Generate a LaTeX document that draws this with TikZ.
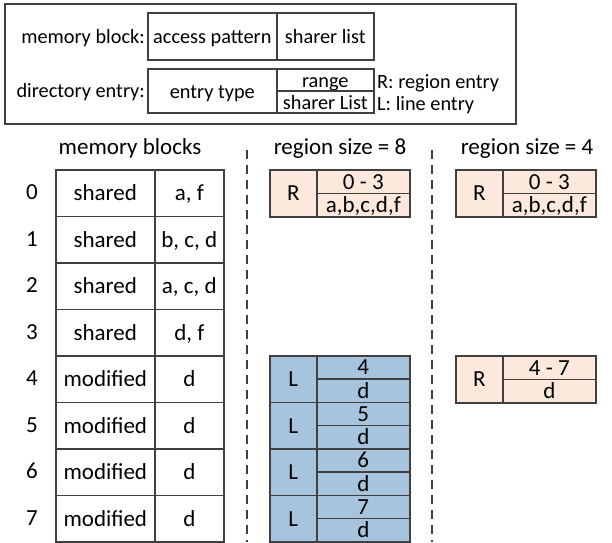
\documentclass[tikz,border=0pt]{standalone}
\usepackage{fontspec}
\setmainfont{Carlito}
\definecolor{edge}{RGB}{64,64,64}
\definecolor{regionfill}{RGB}{252,233,220}
\definecolor{linefill}{RGB}{167,196,222}
\begin{document}
\begin{tikzpicture}[x=1pt,y=-1pt,
  every node/.style={font=\fontsize{23}{25}\selectfont, text height=15pt, text depth=0pt, inner sep=0pt},
  legend/.style={font=\fontsize{20.3}{22}\selectfont},
  cell/.style={draw=edge, line width=1.6pt, anchor=north west},
  rcell/.style={cell, fill=regionfill},
  lcell/.style={cell, fill=linefill},
  divider/.style={draw=edge, line width=1.6pt, dash pattern=on 9pt off 6pt}]
\useasboundingbox (0,0) rectangle (612,542);

% legend frame
\node[cell, minimum width=511pt, minimum height=120pt] (frame) at (4,3) {};
\node[legend, anchor=east] (mbtxt) at (145,36) {memory block:};
\node[legend, cell, minimum width=129pt, minimum height=47pt] (acc) at (147,12) {access pattern};
\node[legend, cell, minimum width=97pt, minimum height=47pt] (shl) at (276,12) {sharer list};
\node[legend, anchor=east] (detxt) at (145,90) {directory entry:};
\node[legend, cell, minimum width=129pt, minimum height=44pt] (etype) at (147,68) {entry type};
\node[legend, cell, minimum width=97pt, minimum height=22pt] (rng) at (276,68) {range};
\node[legend, cell, minimum width=97pt, minimum height=22pt] (slist) at (276,90) {sharer List};
\node[legend, anchor=west] (rkey) at (377,81) {R: region entry};
\node[legend, anchor=west] (lkey) at (377,103) {L: line entry};

% column headings
\node (h0) at (130,147) {memory blocks};
\node (h1) at (340,147) {region size = 8};
\node (h2) at (527,147) {region size = 4};

% column separators
\coordinate (s1a) at (247,150);
\coordinate (s1b) at (247,542);
\coordinate (s2a) at (432,150);
\coordinate (s2b) at (432,542);
\draw[divider] (s1a) -- (s1b);
\draw[divider] (s2a) -- (s2b);

% memory blocks table
\foreach \i/\st/\sh in {0/shared/{a, f},1/shared/{b, c, d},2/shared/{a, c, d},3/shared/{d, f},
                        4/modified/d,5/modified/d,6/modified/d,7/modified/d}{
  \pgfmathsetmacro{\top}{169+46.5*\i}
  \node (idx\i) at (32,\top+23.25) {\i};
  \node[cell, minimum width=99pt, minimum height=46.5pt] (st\i) at (55,\top) {\st};
  \node[cell, minimum width=69pt, minimum height=46.5pt] (sh\i) at (154,\top) {\sh};
}

% region size = 8: one region entry, then line entries
\node[rcell, minimum width=47pt, minimum height=47pt] (ra) at (269,169) {R};
\node[rcell, minimum width=93pt, minimum height=23.5pt] (rar) at (316,169) {0 - 3};
\node[rcell, minimum width=93pt, minimum height=23.5pt] (ras) at (316,192.5) {a,b,c,d,f};
\foreach \i in {0,...,3}{
  \pgfmathsetmacro{\top}{355+46.5*\i}
  \pgfmathtruncatemacro{\blk}{4+\i}
  \node[lcell, minimum width=47pt, minimum height=46.5pt] (l\i) at (269,\top) {L};
  \node[lcell, minimum width=93pt, minimum height=23.25pt] (lr\i) at (316,\top) {\blk};
  \node[lcell, minimum width=93pt, minimum height=23.25pt] (ls\i) at (316,\top+23.25) {d};
}

% region size = 4: two region entries
\node[rcell, minimum width=47pt, minimum height=47pt] (rb) at (455,169) {R};
\node[rcell, minimum width=93pt, minimum height=23.5pt] (rbr) at (502,169) {0 - 3};
\node[rcell, minimum width=93pt, minimum height=23.5pt] (rbs) at (502,192.5) {a,b,c,d,f};
\node[rcell, minimum width=47pt, minimum height=47pt] (rc) at (455,355) {R};
\node[rcell, minimum width=93pt, minimum height=23.5pt] (rcr) at (502,355) {4 - 7};
\node[rcell, minimum width=93pt, minimum height=23.5pt] (rcs) at (502,378.5) {d};
\end{tikzpicture}
\end{document}
